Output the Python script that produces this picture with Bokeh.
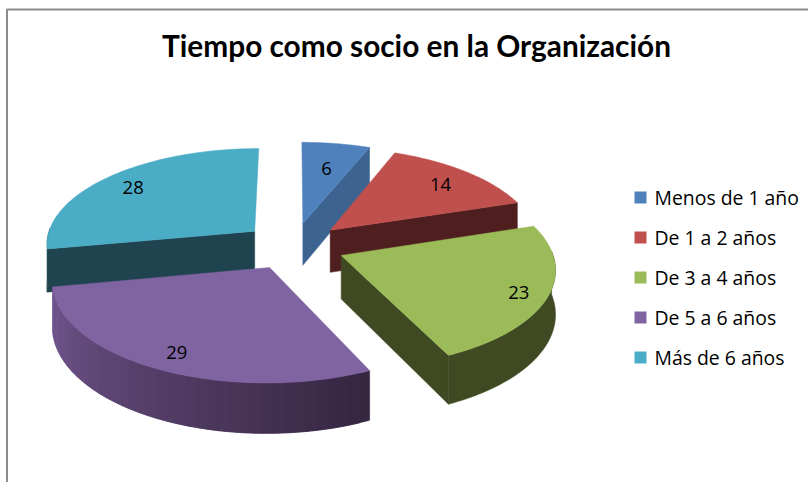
import math
from bokeh.plotting import figure
from bokeh.models import Range1d
from bokeh.core.properties import value
from bokeh.embed import file_html
from bokeh.resources import INLINE

title_text = "Tiempo como socio en la Organización"
categories = ["Menos de 1 año", "De 1 a 2 años", "De 3 a 4 años", "De 5 a 6 años", "Más de 6 años"]
values = [6, 14, 23, 29, 28]
top_colors = ["#4f81bd", "#c0504d", "#9bbb59", "#8064a2", "#4bacc6"]
wall_colors = ["#3d6491", "#4f1f1f", "#3f4a22", "#72578f", "#1f444f"]
wall_far = "#35253f"
label_radius = [0.69, 0.80, 0.865, 0.84, 0.83]
draw_order = [0, 1, 4, 2, 3]

CX, CY, RX, RY, PERSP, EXPLODE, DEPTH = 293.0, 245.5, 209.5, 96.0, 0.12, 0.245, 43.0
LABEL_DY = 2.0
FONT = "Lato"


def project(u, v, z=0.0):
    w = 1.0 / (1.0 + PERSP * v)
    return CX + u * RX * w, CY - v * RY * w + z * DEPTH * w


def mix(a, b, t):
    ca = [int(a[i:i + 2], 16) for i in (1, 3, 5)]
    cb = [int(b[i:i + 2], 16) for i in (1, 3, 5)]
    return "#%02x%02x%02x" % tuple(round(x + (y - x) * t) for x, y in zip(ca, cb))


total = sum(values)
slices = []
acc = 0.0
for val in values:
    t0 = acc / total * 2 * math.pi
    acc += val
    t1 = acc / total * 2 * math.pi
    slices.append((t0, t1, (t0 + t1) / 2))

px, py, pc = [], [], []


def add(points, color):
    px.append([a for a, _ in points])
    py.append([b for _, b in points])
    pc.append(color)


N = 64
for i in draw_order:
    t0, t1, tm = slices[i]
    eu, ev = EXPLODE * math.sin(tm), EXPLODE * math.cos(tm)
    rim = [t0 + (t1 - t0) * k / N for k in range(N + 1)]
    if math.cos(t0 - math.pi / 2) < -1e-6:
        e = (eu + math.sin(t0), ev + math.cos(t0))
        add([project(eu, ev), project(*e), project(*e, 1), project(eu, ev, 1)], wall_colors[i])
    if math.cos(t1 + math.pi / 2) < -1e-6:
        e = (eu + math.sin(t1), ev + math.cos(t1))
        add([project(eu, ev), project(*e), project(*e, 1), project(eu, ev, 1)], wall_colors[i])
    front = [t for t in rim if math.cos(t) < 0.05]
    if front:
        if i == 3:
            # purple wall: bands that overlap, so that no seams show
            bands = 40
            for k in range(bands):
                s = front[0] + (front[-1] - front[0]) * k / bands
                e = front[0] + (front[-1] - front[0]) * min(k + 2, bands) / bands
                arc = [s + (e - s) * j / 6 for j in range(7)]
                pts = [project(eu + math.sin(t), ev + math.cos(t)) for t in arc]
                pts += [project(eu + math.sin(t), ev + math.cos(t), 1) for t in reversed(arc)]
                add(pts, mix(wall_far, wall_colors[i], (k + 0.5) / bands))
        else:
            pts = [project(eu + math.sin(t), ev + math.cos(t)) for t in front]
            pts += [project(eu + math.sin(t), ev + math.cos(t), 1) for t in reversed(front)]
            add(pts, wall_colors[i])
    add([project(eu, ev)] + [project(eu + math.sin(t), ev + math.cos(t)) for t in rim], top_colors[i])

p = figure(width=808, height=482, x_range=Range1d(0, 808), y_range=Range1d(482, 0),
           toolbar_location=None, output_backend="svg", min_border=0,
           background_fill_color="white", border_fill_color="white", outline_line_color=None)
p.axis.visible = False
p.grid.visible = False
p.xaxis.visible = False
p.yaxis.visible = False
p.styles = {"position": "absolute", "left": "0px", "top": "0px"}

FRAME_X, FRAME_Y = 6.5, 9
p.line([FRAME_X, FRAME_X, 808], [482, FRAME_Y, FRAME_Y], line_color="#8c8c8c", line_width=2)

p.patches(px, py, fill_color=pc, line_color=pc, line_width=0.5)

p.text([416], [45], text=[title_text], text_font=value(FONT), text_font_style="bold",
       text_font_size="29.8px", text_align="center", text_baseline="middle", text_color="#000000")

lx, ly, lt = [], [], []
for i, (val, (t0, t1, tm)) in enumerate(zip(values, slices)):
    u = (EXPLODE + label_radius[i]) * math.sin(tm)
    v = (EXPLODE + label_radius[i]) * math.cos(tm)
    a, b = project(u, v)
    lx.append(a)
    ly.append(b + LABEL_DY)
    lt.append(str(val))
p.text(lx, ly, text=lt, text_font=value("Open Sans"), text_font_size="18.5px",
       text_align="center", text_baseline="middle", text_color="#000000")

LEG_X, LEG_Y0, LEG_STEP = 640, 197, 40
leg_y = [LEG_Y0 + LEG_STEP * i for i in range(len(categories))]
p.rect([LEG_X] * len(categories), leg_y, width=12, height=12, fill_color=top_colors, line_color=None)
p.text([LEG_X + 14] * len(categories), leg_y, text=categories, text_font=value("Open Sans"),
       text_font_size="19.4px", text_align="left", text_baseline="middle", text_color="#000000")

open("out.html", "w").write(file_html(p, INLINE))
